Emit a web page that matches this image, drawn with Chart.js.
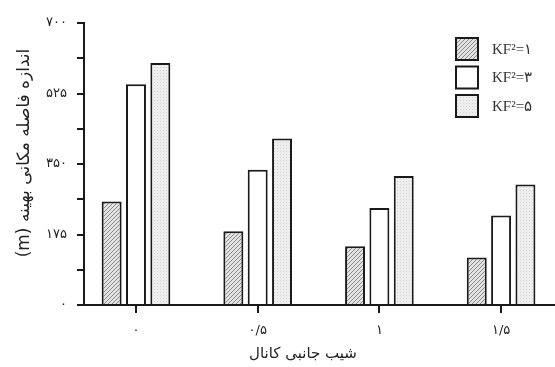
<!DOCTYPE html>
<html>
<head>
<meta charset="utf-8">
<script src="https://cdn.jsdelivr.net/npm/chart.js@4/dist/chart.umd.min.js"></script>
<style>
  html, body { margin: 0; padding: 0; background: #fff; overflow: hidden; }
  #wrap { width: 555px; height: 367px; }
</style>
</head>
<body>
<div id="wrap"><canvas id="c" width="555" height="367" dir="rtl"></canvas></div>
<script>
// Channel side slope (x) and optimum spacing in metres for three KF² values
const slopes = [0, 0.5, 1, 1.5];
const slopeLabels = ['۰', '۰/۵', '۱', '۱/۵'];
const seriesNames = ['KF²=۱', 'KF²=۳', 'KF²=۵'];
const kf1 = [257, 183, 146, 118];
const kf3 = [548, 336, 241, 222];
const kf5 = [601, 413, 320, 299];
const yTickLabels = ['۰', '۱۷۵', '۳۵۰', '۵۲۵', '۷۰۰'];
const yTitle = 'اندازه فاصله مکانی بهینه (m)';
const xTitle = 'شیب جانبی کانال';

// Fill patterns for the bars
function makePattern(size, draw) {
  const c = document.createElement('canvas');
  c.width = c.height = size;
  const g = c.getContext('2d');
  draw(g, size);
  return g.createPattern(c, 'repeat');
}
const hatch = makePattern(4, (g, s) => {
  g.fillStyle = '#e2e2e2';
  g.fillRect(0, 0, s, s);
  g.strokeStyle = '#8a8a8a';
  g.lineWidth = 1;
  g.beginPath();
  g.moveTo(0, s); g.lineTo(s, 0);
  g.moveTo(-1, 1); g.lineTo(1, -1);
  g.moveTo(s - 1, s + 1); g.lineTo(s + 1, s - 1);
  g.stroke();
});
const dots = makePattern(3, (g, s) => {
  g.fillStyle = '#eeeeee';
  g.fillRect(0, 0, s, s);
  g.fillStyle = '#d4d4d4';
  g.fillRect(1, 1, 1, 1);
});

const toPoints = vals => slopes.map((s, i) => ({ x: s, y: vals[i] }));
const INK = '#1a1a1a';

const barStyle = {
  borderColor: INK,
  borderWidth: 2,
  categoryPercentage: 0.6,
  barPercentage: 0.82
};

// Stacked legend boxes in the upper right corner, plus the two axis titles
const annotations = {
  id: 'annotations',
  afterDraw(chart) {
    const ctx = chart.ctx;
    ctx.save();
    ctx.direction = 'ltr';
    chart.data.datasets.forEach((ds, i) => {
      const x = 455, y = 37 + i * 28.5, w = 24, h = 24;
      ctx.fillStyle = ds.backgroundColor;
      ctx.fillRect(x, y, w, h);
      ctx.strokeStyle = INK;
      ctx.lineWidth = 2;
      ctx.strokeRect(x + 1, y + 1, w - 2, h - 2);
      ctx.fillStyle = '#333';
      ctx.font = '15px "Liberation Serif"';
      ctx.textAlign = 'left';
      ctx.textBaseline = 'middle';
      ctx.fillText(ds.label, x + 37, y + h / 2 + 1);
    });
    ctx.restore();

    ctx.save();
    ctx.direction = 'rtl';
    ctx.fillStyle = '#222';
    ctx.textAlign = 'center';
    ctx.textBaseline = 'middle';
    ctx.font = '15px "DejaVu Sans"';
    ctx.fillText(xTitle, 303, 354);
    ctx.translate(25, 153);
    ctx.rotate(-Math.PI / 2);
    ctx.font = '17px "DejaVu Sans"';
    ctx.fillText(yTitle, 0, 0);
    ctx.restore();
  }
};

new Chart(document.getElementById('c'), {
  type: 'bar',
  data: {
    datasets: [
      { label: seriesNames[0], data: toPoints(kf1), backgroundColor: hatch, ...barStyle },
      { label: seriesNames[1], data: toPoints(kf3), backgroundColor: '#ffffff', ...barStyle },
      { label: seriesNames[2], data: toPoints(kf5), backgroundColor: dots, ...barStyle }
    ]
  },
  options: {
    responsive: false,
    animation: false,
    devicePixelRatio: 1,
    layout: { padding: { top: 23, right: 0, left: 0, bottom: 0 } },
    plugins: { legend: { display: false }, tooltip: { enabled: false } },
    scales: {
      x: {
        type: 'linear',
        position: 'bottom',
        offset: false,
        min: -0.2136,
        max: 1.7215,
        afterBuildTicks: s => { s.ticks = slopes.map(v => ({ value: v })); },
        afterFit: s => { s.height = 62; },
        border: { color: INK, width: 2 },
        grid: { offset: false, drawOnChartArea: false, drawTicks: true, tickLength: 8, color: INK, lineWidth: 2 },
        ticks: {
          autoSkip: false,
          maxRotation: 0,
          padding: 10,
          color: '#222',
          font: { family: '"DejaVu Sans"', size: 13 },
          callback: v => { const i = slopes.indexOf(v); return i >= 0 ? slopeLabels[i] : ''; }
        }
      },
      y: {
        min: 0,
        max: 700,
        afterFit: s => { s.width = 84; },
        border: { color: INK, width: 2 },
        grid: { drawOnChartArea: false, drawTicks: true, tickLength: 7, color: INK, lineWidth: 2 },
        ticks: {
          stepSize: 87.5,
          padding: 10,
          color: '#222',
          font: { family: '"DejaVu Sans"', size: 13 },
          callback: v => (v % 175 === 0 ? yTickLabels[v / 175] : '')
        }
      }
    }
  },
  plugins: [annotations]
});
</script>
</body>
</html>
